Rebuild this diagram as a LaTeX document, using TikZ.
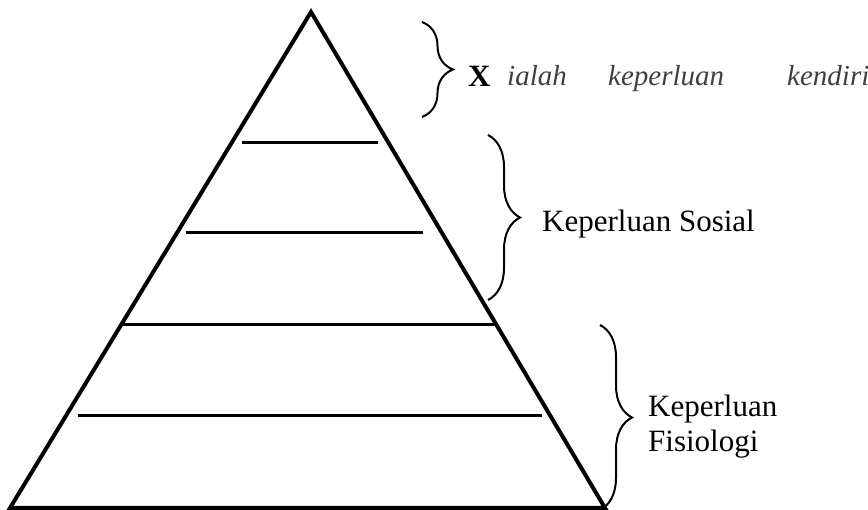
\documentclass[tikz,border=0pt]{standalone}
\usepackage{fontspec}
\setmainfont{Liberation Serif}
\usetikzlibrary{decorations.pathreplacing}
\begin{document}
\begin{tikzpicture}[x=1pt,y=-1pt,
  pyredge/.style={line width=4pt, line join=miter},
  tierline/.style={line width=3pt},
  bracestyle/.style={decorate, decoration={brace, amplitude=#1}, line width=2pt},
  tagtext/.style={font=\fontsize{31}{35}\selectfont, inner sep=0pt, anchor=base west},
  handtext/.style={font=\fontsize{29}{33}\selectfont\itshape, text=black!75, inner sep=0pt, anchor=base west}]
\useasboundingbox (0,0) rectangle (868,510);
% triangle
\coordinate (apex) at (311,12);
\coordinate (bl) at (10,508);
\coordinate (br) at (605,508);
\draw[pyredge] (apex) -- (br) -- (bl) -- cycle;
% tier lines
\coordinate (l1a) at (242,143); \coordinate (l1b) at (378,143);
\coordinate (l2a) at (186,233); \coordinate (l2b) at (423,233);
\coordinate (l3a) at (121,325); \coordinate (l3b) at (497,325);
\coordinate (l4a) at (78,416);  \coordinate (l4b) at (542,416);
\draw[tierline] (l1a) -- (l1b);
\draw[tierline] (l2a) -- (l2b);
\draw[tierline] (l3a) -- (l3b);
\draw[tierline] (l4a) -- (l4b);
% braces
\coordinate (b1t) at (422,22);  \coordinate (b1b) at (422,117);
\coordinate (b2t) at (488,135); \coordinate (b2b) at (488,300);
\coordinate (b3t) at (600,325); \coordinate (b3b) at (600,510);
\draw[bracestyle=31pt] (b1t) -- (b1b);
\draw[bracestyle=32pt] (b2t) -- (b2b);
\draw[bracestyle=32pt] (b3t) -- (b3b);
% texts
\node[tagtext] (xlab) at (468,87) {\textbf{X}};
\node[handtext] (w1) at (507,86) {ialah};
\node[handtext] (w2) at (608,86) {keperluan};
\node[handtext] (w3) at (787,86) {kendiri};
\node[tagtext] (sos) at (542,232) {Keperluan Sosial};
\node[tagtext] (fis1) at (648,417) {Keperluan};
\node[tagtext] (fis2) at (648,452) {Fisiologi};
\end{tikzpicture}
\end{document}
